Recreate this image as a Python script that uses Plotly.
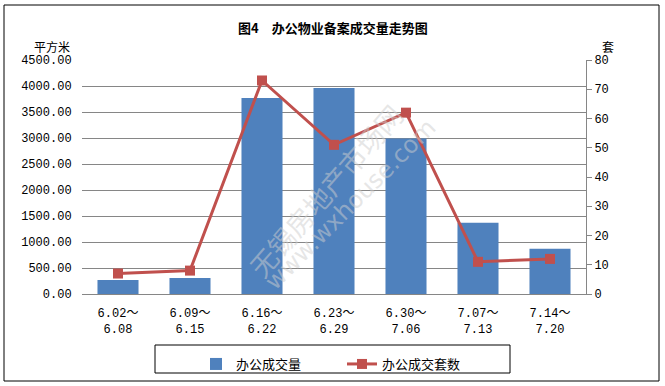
import plotly.graph_objects as go

categories = ["6.02～<br>6.08", "6.09～<br>6.15", "6.16～<br>6.22", "6.23～<br>6.29",
              "6.30～<br>7.06", "7.07～<br>7.13", "7.14～<br>7.20"]
area_values = [270, 310, 3770, 3960, 2990, 1370, 870]
unit_values = [7, 8, 73, 51, 62, 11, 12]
left_ticks = [0, 500, 1000, 1500, 2000, 2500, 3000, 3500, 4000, 4500]
right_ticks = [0, 10, 20, 30, 40, 50, 60, 70, 80]

W, H = 665, 386
L, R, T, B = 82, 586, 60, 294

cjk = "Noto Sans CJK SC"
mono = "Liberation Mono, Noto Sans CJK SC"

fig = go.Figure()
fig.add_trace(go.Bar(
    x=categories, y=area_values, name="办公成交量",
    marker=dict(color="#4F81BD", line=dict(width=0)),
    width=0.57, yaxis="y",
))
fig.add_trace(go.Scatter(
    x=categories, y=unit_values, name="办公成交套数", mode="lines+markers",
    line=dict(color="#C0504D", width=3),
    marker=dict(symbol="square", size=10, color="#C0504D"),
    yaxis="y2",
))

def px_x(x):
    return (x - L) / (R - L)

def px_y(y):
    return (B - y) / (B - T)

annotations = [
    dict(text="<b>图4　办公物业备案成交量走势图</b>", x=333, y=27,
         font=dict(family=cjk, size=13, color="#000")),
    dict(text="平方米", x=52, y=46, font=dict(family=cjk, size=12, color="#000")),
    dict(text="套", x=608, y=46, font=dict(family=cjk, size=12, color="#000")),
    dict(text="无锡房地产市场网", x=325, y=190, textangle=-49,
         font=dict(family=cjk, size=27, color="rgba(205,205,205,0.5)")),
    dict(text="www.wxhouse.com", x=350, y=205, textangle=-45,
         font=dict(family="DejaVu Sans", size=24, color="rgba(205,205,205,0.5)")),
]
for a in annotations:
    a["x"] = px_x(a["x"])
    a["y"] = px_y(a["y"])
    a["xref"] = "paper"
    a["yref"] = "paper"
    a["xanchor"] = "center"
    a["yanchor"] = "middle"
    a["showarrow"] = False

fig.update_layout(
    width=W, height=H,
    margin=dict(l=L, r=W - R, t=T, b=H - B, autoexpand=False),
    paper_bgcolor="white", plot_bgcolor="white",
    showlegend=True,
    legend=dict(
        orientation="h", x=px_x(196), y=px_y(349), xanchor="left", yanchor="top",
        font=dict(family=cjk, size=13, color="#000"),
        entrywidth=101, entrywidthmode="pixels",
        bgcolor="rgba(0,0,0,0)", borderwidth=0,
    ),
    xaxis=dict(
        type="category", showgrid=False, showline=True, linecolor="#868686", linewidth=1,
        ticks="outside", ticklen=8, tickcolor="rgba(0,0,0,0)",
        tickfont=dict(family=mono, size=12, color="#000"),
        zeroline=False, automargin=False,
    ),
    yaxis=dict(
        range=[0, 4500], tickvals=left_ticks, tickformat=".2f",
        showgrid=True, gridcolor="#868686", gridwidth=1,
        showline=False, zeroline=False, automargin=False,
        ticks="outside", ticklen=7, tickcolor="rgba(0,0,0,0)",
        tickfont=dict(family=mono, size=12, color="#000"),
    ),
    yaxis2=dict(
        range=[0, 80], tickvals=right_ticks, overlaying="y", side="right",
        showgrid=False, showline=True, linecolor="#868686", linewidth=1,
        ticks="outside", ticklen=5, tickcolor="#868686", zeroline=False, automargin=False,
        tickfont=dict(family=mono, size=12, color="#000"),
    ),
    annotations=annotations,
    shapes=[
        dict(type="rect", xref="paper", yref="paper",
             x0=px_x(4), x1=px_x(659), y0=px_y(5), y1=px_y(381),
             line=dict(color="#000", width=1), layer="below"),
        dict(type="rect", xref="paper", yref="paper",
             x0=px_x(155), x1=px_x(510), y0=px_y(345), y1=px_y(373),
             line=dict(color="#000", width=1)),
    ],
)

fig.write_html("out.html", config={"displayModeBar": False},
               post_script="document.body.style.margin='0';")
